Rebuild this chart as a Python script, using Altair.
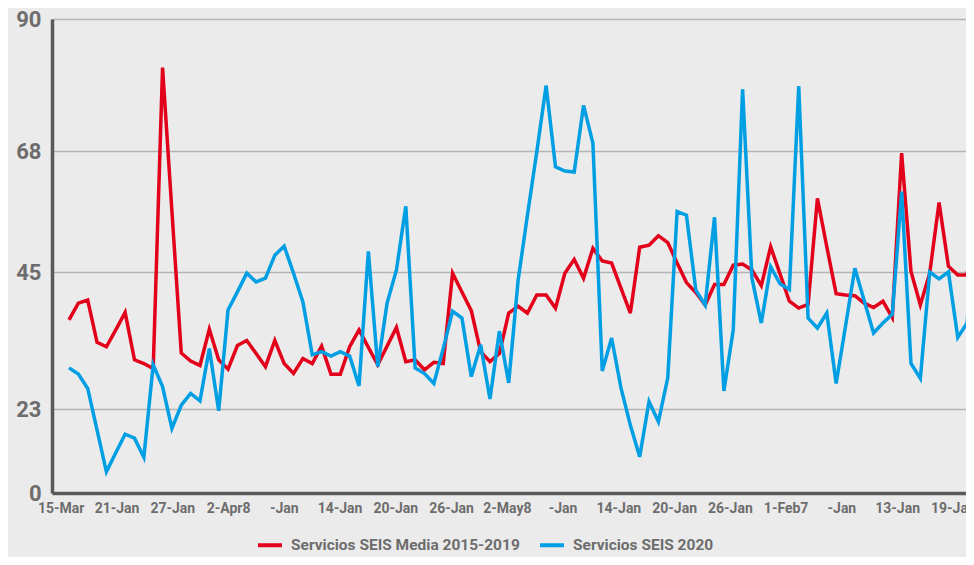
import altair as alt
import pandas as pd

# Values (one point per week)
red = [37.3, 40.0, 40.5, 33.7, 33.0, 35.7, 38.5, 30.9, 30.3, 29.5,
       81.9, 56.6, 32.0, 30.7, 30.0, 35.8, 30.9, 29.4, 33.2, 34.0,
       31.9, 29.8, 34.0, 30.3, 28.7, 31.1, 30.3, 33.1, 28.6, 28.6,
       33.0, 35.7, 32.9, 30.1, 33.1, 36.1, 30.6, 30.9, 29.3, 30.5,
       30.3, 44.8, 41.8, 38.8, 32.2, 30.6, 31.9, 38.4, 39.5, 38.4,
       41.3, 41.3, 39.2, 44.8, 47.4, 44.0, 49.5, 47.1, 46.7, 42.4,
       38.4, 49.7, 50.1, 51.9, 50.6, 46.7, 43.3, 41.7, 39.7, 43.0,
       43.0, 46.3, 46.5, 45.4, 42.8, 49.8, 44.7, 40.3, 39.2, 39.8,
       59.0, 49.8, 41.5, 41.3, 41.2, 40.0, 39.3, 40.3, 37.7, 67.6,
       45.1, 39.7, 44.8, 58.2, 46.1, 44.5, 44.5, 61.3]

blue = [29.6, 28.6, 26.3, 17.2, 5.8, 11.0, 16.1, 15.0, 9.8, 30.1,
        26.6, 17.7, 23.6, 25.5, 24.3, 32.7, 22.5, 38.9, 41.8, 44.8,
        43.4, 44.0, 48.2, 49.9, 44.8, 40.2, 31.7, 32.2, 31.5, 32.2,
        31.5, 26.7, 48.9, 29.8, 40.0, 45.4, 57.5, 29.6, 28.7, 27.1,
        32.7, 38.7, 37.6, 28.2, 33.3, 24.6, 35.5, 27.2, 43.6, 55.8,
        67.8, 78.9, 65.0, 64.2, 64.0, 75.6, 69.3, 29.1, 34.4, 26.4,
        18.6, 9.9, 24.2, 19.5, 28.0, 56.5, 55.8, 42.1, 39.7, 55.4,
        25.9, 35.7, 78.3, 44.0, 36.8, 46.0, 43.1, 42.2, 78.8, 37.6,
        36.0, 38.4, 27.1, 36.3, 45.7, 40.4, 35.2, 36.8, 38.2, 60.3,
        30.3, 27.9, 45.0, 43.9, 45.0, 34.5, 36.8, 59.3]

x_labels = ["15-Mar", "21-Jan", "27-Jan", "2-Apr8", "-Jan", "14-Jan", "20-Jan",
            "26-Jan", "2-May8", "-Jan", "14-Jan", "20-Jan", "26-Jan", "1-Feb7",
            "-Jan", "13-Jan", "19-Jan"]

y_ticks = [0, 23, 45, 68, 90]

series_red = "Servicios SEIS Media 2015-2019"
series_blue = "Servicios SEIS 2020"

df = pd.DataFrame({
    "idx": list(range(len(red))) + list(range(len(blue))),
    "value": red + blue,
    "serie": [series_red] * len(red) + [series_blue] * len(blue),
})

# label k sits about every 6 weeks, slightly left of the week it names
label_pos = [round(-0.88 + 5.96 * k, 2) for k in range(len(x_labels))]
label_expr = ("[" + ",".join("'%s'" % l for l in x_labels)
              + "][round((datum.value + 0.88) / 5.96)]")

FONT = "Roboto"
GRAY = "#6d6d6d"
AXIS_DARK = "#58595b"

color = alt.Color(
    "serie:N",
    scale=alt.Scale(domain=[series_red, series_blue], range=["#e2001a", "#009fe3"]),
    legend=alt.Legend(
        title=None, orient="none", legendX=204, legendY=512, direction="horizontal",
        symbolType="stroke", symbolSize=576, symbolStrokeWidth=4,
        labelFont=FONT, labelFontSize=15.5, labelFontWeight="bold", labelColor=GRAY,
        labelOffset=7, columnPadding=12, padding=0, labelLimit=500,
    ),
)

x = alt.X(
    "idx:Q",
    scale=alt.Scale(domain=[-1.817, 95.88], nice=False, zero=False),
    axis=alt.Axis(
        values=label_pos, labelExpr=label_expr, title=None, grid=False,
        ticks=False, tickSize=0, labelFont=FONT, labelFontSize=14,
        labelFontWeight="bold", labelColor=GRAY, labelPadding=8,
        domainColor=AXIS_DARK, domainWidth=3.5, labelOverlap=False,
        labelBound=False, labelFlush=False, labelAngle=0,
    ),
)

y = alt.Y(
    "value:Q",
    scale=alt.Scale(domain=y_ticks, range=[474, 390, 253, 132, 0], nice=False, zero=False),
    axis=alt.Axis(
        values=y_ticks, title=None, ticks=False, tickSize=0, grid=True,
        gridColor="#b5b5b5", gridWidth=1.5, labelFont=FONT, labelFontSize=22,
        labelFontWeight="bold", labelColor=GRAY, labelPadding=11,
        domainColor=AXIS_DARK, domainWidth=3.5,
    ),
)

base = alt.Chart(df).mark_line(strokeWidth=3.5, clip=True).encode(x=x, y=y, color=color)

red_line = base.transform_filter(alt.datum.serie == series_red)
blue_line = base.transform_filter(alt.datum.serie == series_blue)

chart = (
    alt.layer(red_line, blue_line)
    .properties(
        width=914, height=474,
        padding={"left": 44, "top": 11, "right": 0, "bottom": 64},
        autosize=alt.AutoSizeParams(type="none"),
        background="#ebebeb",
    )
    .configure_view(stroke=None)
)

chart.save("out.html", embed_options={"renderer": "svg", "actions": False})
